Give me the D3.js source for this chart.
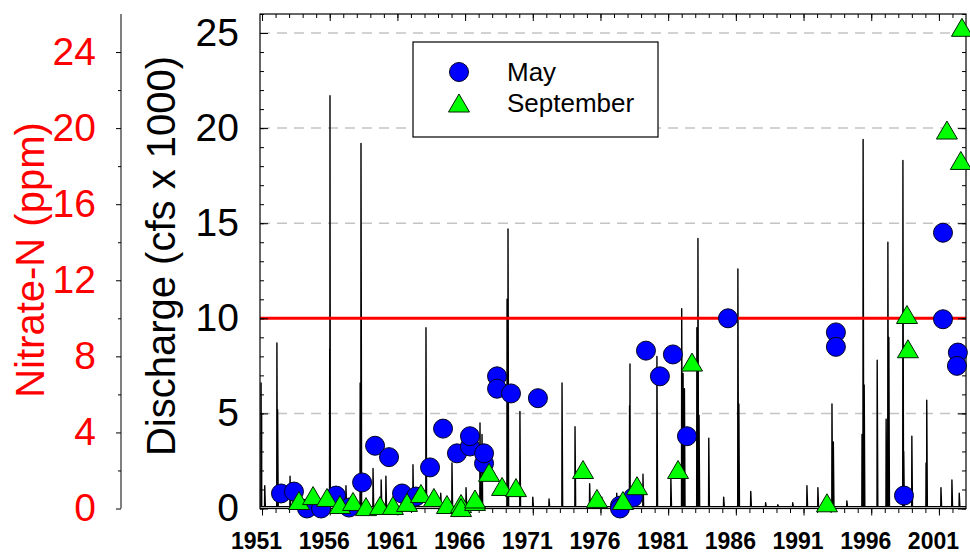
<!DOCTYPE html>
<html><head><meta charset="utf-8">
<script src="https://cdn.jsdelivr.net/npm/d3@7"></script>
<style>body{margin:0;background:#fff} svg{display:block}</style>
</head><body><svg id="c" width="970" height="554"></svg>
<script>
// ---- data ----
const mayDates   = [1952.4,1953.36,1954.32,1955.36,1956.47,1957.43,1958.39,1959.35,1960.38,1961.34,1962.37,1963.41,1964.37,1965.4,1966.36,1966.36,1967.4,1967.4,1968.36,1968.36,1969.39,1971.38,1977.44,1977.44,1978.4,1979.36,1980.39,1981.35,1982.39,1985.42,1993.39,1993.39,1998.42,2001.3,2001.3,2002.4,2002.33];
const mayNitrate = [0.79,0.89,0.0,0.0,0.68,0.05,1.37,3.3,2.7,0.79,0.63,2.16,4.2,2.9,3.26,3.8,2.37,2.9,6.95,6.3,6.05,5.8,0.15,0.0,0.58,8.3,6.95,8.1,3.8,10.0,9.26,8.5,0.68,14.5,9.95,8.2,7.5];
const sepDates   = [1953.73,1954.77,1955.8,1956.76,1957.72,1958.68,1959.72,1960.67,1961.71,1962.74,1963.7,1964.66,1965.7,1965.7,1966.73,1966.73,1967.77,1968.73,1969.76,1974.71,1975.74,1977.66,1978.7,1981.73,1982.76,1992.73,1998.64,1998.71,2001.59,2002.62,2002.7];
const sepNitrate = [0.42,0.68,0.58,0.21,0.37,0.1,0.16,0.16,0.32,0.79,0.58,0.21,0.26,0.05,0.37,0.5,1.9,1.16,1.1,2.05,0.53,0.42,1.2,2.05,7.7,0.3,10.2,8.4,19.9,18.3,25.3];
// discharge peaks (cfs x 1000)
const spikeDates = [1950.93,1950.97,1951.2,1952.1,1952.15,1953.07,1953.3,1956.0,1956.02,1957.2,1958.25,1958.31,1959.2,1959.8,1960.15,1961.3,1962.15,1963.11,1964.2,1965.03,1966.07,1967.1,1967.25,1969.1,1969.17,1970.05,1971.0,1972.2,1973.16,1974.12,1975.2,1976.1,1977.2,1978.15,1978.18,1979.14,1980.17,1981.2,1982.0,1982.1,1982.2,1983.12,1983.2,1983.28,1984.0,1985.1,1986.15,1986.22,1987.1,1988.2,1989.1,1990.2,1991.25,1992.06,1993.1,1993.2,1994.2,1995.32,1995.4,1995.48,1996.44,1997.1,1997.23,1997.3,1998.34,1998.4,1999.0,2000.05,2000.1,2001.15,2001.96,2002.5];
const spikePeaks = [6.6,5.0,1.2,8.7,5.2,1.7,1.0,8.4,21.7,1.2,6.6,19.2,2.1,1.5,1.7,1.0,2.3,9.5,0.8,2.4,1.1,4.5,3.9,11.0,14.7,5.1,0.6,0.5,6.6,4.3,1.3,0.6,0.8,5.4,7.6,1.8,8.0,1.6,10.5,7.1,6.3,9.5,14.2,4.9,3.7,0.6,12.6,5.5,0.9,0.3,0.2,0.3,1.2,1.1,5.5,3.5,0.4,3.9,19.4,6.5,7.8,4.7,14.0,9.0,18.3,3.0,3.8,2.4,5.7,1.1,1.5,0.8];
const baseFlow = 0.1;
const dischargeTicks = [0,5,10,15,20,25];
const nitrateTicks = [0,4,8,12,16,20,24];
const nitrateMinor = [2,6,10,14,18,22];
const yearTicks = [1951,1956,1961,1966,1971,1976,1981,1986,1991,1996,2001];
const gridValues = [5,15,20,25];
const nitrateStandard = 10;

// ---- layout ----
const svg = d3.select("#c");
const L = 260, R = 966, T = 14, B = 508.5;
const FONT = "'Liberation Sans', Arial, Helvetica, sans-serif";
const x = d3.scaleLinear().domain([1950.85, 2003.0]).range([L, R]);
const y = d3.scaleLinear().domain([0, 26]).range([B, T]);
const yN = d3.scaleLinear().domain([0, 26]).range([B, T]);

// gridlines
svg.append("g").selectAll("line").data(gridValues).join("line")
  .attr("x1", L).attr("x2", R).attr("y1", d => y(d)).attr("y2", d => y(d))
  .attr("stroke", "#c4c4c4").attr("stroke-width", 1.5).attr("stroke-dasharray", "10,7");

// discharge spikes
const pts = [[1950.85, baseFlow]];
spikeDates.forEach((t, i) => {
  pts.push([t - 0.015, baseFlow], [t, spikePeaks[i]], [t + 0.045, baseFlow]);
});
pts.push([2003.0, baseFlow]);
pts.sort((a, b) => a[0] - b[0]);
svg.append("path").datum(pts)
  .attr("d", d3.line().x(d => x(Math.max(1950.85, d[0]))).y(d => y(d[1])))
  .attr("fill", "none").attr("stroke", "#000").attr("stroke-width", 1.4).attr("stroke-linejoin", "round");

// red standard line
svg.append("line").attr("x1", L).attr("x2", R).attr("y1", y(nitrateStandard)).attr("y2", y(nitrateStandard))
  .attr("stroke", "#ff0000").attr("stroke-width", 3);

// axes (frame)
function style(g) { g.select(".domain").remove(); g.selectAll("line").attr("stroke", "#000"); }
const allYears = d3.range(1951, 2003);
const allQ = d3.range(0, 27);
// bottom
svg.append("g").attr("transform", `translate(0,${B})`)
  .call(d3.axisBottom(x).tickValues(allYears).tickSize(4.5).tickFormat("")).call(style);
svg.append("g").attr("transform", `translate(0,${B})`)
  .call(d3.axisBottom(x).tickValues(yearTicks).tickSize(7).tickPadding(17).tickFormat(d3.format("d")))
  .call(style)
  .call(g => g.selectAll("text").attr("dx", -6).attr("fill", "#000")
    .style("font-family", FONT).style("font-size", "23px").style("font-weight", "bold"));
// top
svg.append("g").attr("transform", `translate(0,${T})`)
  .call(d3.axisTop(x).tickValues(allYears).tickSize(-4).tickFormat("")).call(style);
svg.append("g").attr("transform", `translate(0,${T})`)
  .call(d3.axisTop(x).tickValues(yearTicks).tickSize(-7).tickFormat("")).call(style);
// left discharge
svg.append("g").attr("transform", `translate(${L},0)`)
  .call(d3.axisLeft(y).tickValues(allQ).tickSize(-4).tickFormat("")).call(style);
svg.append("g").attr("transform", `translate(${L},0)`)
  .call(d3.axisLeft(y).tickValues(dischargeTicks).tickSize(-8).tickPadding(21).tickFormat(d3.format("d")))
  .call(style)
  .call(g => g.selectAll("text").attr("fill", "#000").style("font-family", FONT).style("font-size", "39px"));
// right
svg.append("g").attr("transform", `translate(${R},0)`)
  .call(d3.axisRight(y).tickValues(allQ).tickSize(-4).tickFormat("")).call(style);
svg.append("g").attr("transform", `translate(${R},0)`)
  .call(d3.axisRight(y).tickValues(dischargeTicks).tickSize(-8).tickFormat("")).call(style);
// frame
svg.append("rect").attr("x", L).attr("y", T).attr("width", R - L).attr("height", B - T)
  .attr("fill", "none").attr("stroke", "#000").attr("stroke-width", 1.2);

// nitrate axis
const NX = 121;
svg.append("line").attr("x1", NX).attr("x2", NX).attr("y1", yN(26)).attr("y2", yN(0)).attr("stroke", "#000");
svg.append("g").attr("transform", `translate(${NX},0)`)
  .call(d3.axisLeft(yN).tickValues(nitrateMinor).tickSize(3).tickFormat("")).call(style);
svg.append("g").attr("transform", `translate(${NX},0)`)
  .call(d3.axisLeft(yN).tickValues(nitrateTicks).tickSize(5).tickPadding(20).tickFormat(d3.format("d")))
  .call(style)
  .call(g => g.selectAll("text").attr("fill", "#ff0000").style("font-family", FONT).style("font-size", "39px"));

// axis titles
svg.append("text").attr("transform", "translate(44,260) rotate(-90)")
  .attr("text-anchor", "middle").attr("fill", "#ff0000")
  .style("font-family", FONT).style("font-size", "40px").text("Nitrate-N (ppm)");
svg.append("text").attr("transform", "translate(175,256) rotate(-90)")
  .attr("text-anchor", "middle").attr("fill", "#000")
  .style("font-family", FONT).style("font-size", "40px").text("Discharge (cfs x 1000)");

// markers
const tri = "M0,-9L10.5,9L-10.5,9Z";
svg.append("g").selectAll("circle").data(mayDates).join("circle")
  .attr("cx", d => x(d)).attr("cy", (d, i) => yN(mayNitrate[i])).attr("r", 9.5)
  .attr("fill", "#0000ff").attr("stroke", "#000022").attr("stroke-width", 1);
svg.append("g").selectAll("path").data(sepDates).join("path")
  .attr("d", tri).attr("transform", (d, i) => `translate(${x(d)},${yN(sepNitrate[i])})`)
  .attr("fill", "#00ff00").attr("stroke", "#002200").attr("stroke-width", 1);

// legend
const lg = svg.append("g");
lg.append("rect").attr("x", 413).attr("y", 42).attr("width", 245).attr("height", 95)
  .attr("fill", "#fff").attr("stroke", "#000").attr("stroke-width", 1.2);
lg.append("circle").attr("cx", 459).attr("cy", 72).attr("r", 9.5)
  .attr("fill", "#0000ff").attr("stroke", "#000022");
lg.append("path").attr("d", tri).attr("transform", "translate(459,103)")
  .attr("fill", "#00ff00").attr("stroke", "#002200");
lg.append("text").attr("x", 507).attr("y", 81).style("font-family", FONT).style("font-size", "26px").text("May");
lg.append("text").attr("x", 507).attr("y", 112).style("font-family", FONT).style("font-size", "26px").text("September");
</script></body></html>
